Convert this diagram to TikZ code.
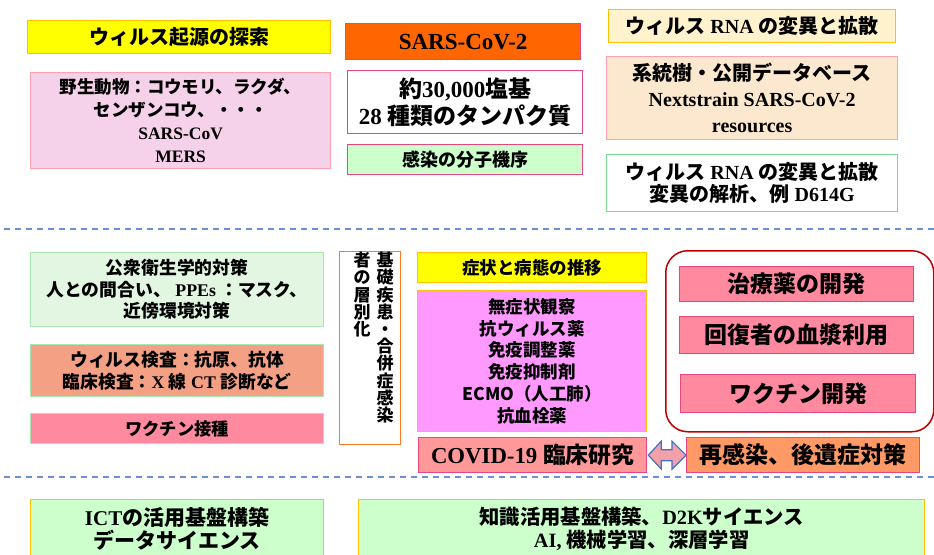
\documentclass[tikz,border=0pt]{standalone}
\usepackage{fontspec}
\setmainfont{Liberation Serif}
\newfontfamily\jpf{Noto Sans CJK JP}
\newcommand\jj[1]{{\jpf #1}}
\newcommand\fsz[2]{\fontsize{#1}{#2}\selectfont}
\usetikzlibrary{calc}
\definecolor{cyel}{HTML}{FFFF00}
\definecolor{cgold}{HTML}{FFC000}
\definecolor{cpinkl}{HTML}{F6D2EA}
\definecolor{cpinkb}{HTML}{FFA0B0}
\definecolor{corg}{HTML}{FF6600}
\definecolor{cdeep}{HTML}{E8467C}
\definecolor{cgreen}{HTML}{CCFFCC}
\definecolor{ccream}{HTML}{FFF2CC}
\definecolor{cpeach}{HTML}{FCE8CF}
\definecolor{cgrb}{HTML}{7FD88F}
\definecolor{cgrl}{HTML}{E2F6E2}
\definecolor{cgrlb}{HTML}{A9E8B0}
\definecolor{csalm}{HTML}{F4A084}
\definecolor{cpk}{HTML}{FF8AA0}
\definecolor{cvorg}{HTML}{FF7A20}
\definecolor{cmag}{HTML}{FF99FF}
\definecolor{ccov}{HTML}{FF9999}
\definecolor{cred}{HTML}{C00000}
\definecolor{creinf}{HTML}{FF9966}
\definecolor{carrf}{HTML}{F4A0A8}
\definecolor{carrb}{HTML}{4472C4}
\definecolor{cdash}{HTML}{6A8FD4}
\begin{document}
\begin{tikzpicture}[x=1pt,y=-1pt,
  bx/.style={draw, line width=1.3pt, align=center, inner sep=0pt, anchor=north west},
  sepline/.style={cdash, line width=2.2pt, dash pattern=on 6pt off 5pt},
  vcol/.style={align=center, inner sep=0pt, anchor=north, font={\bfseries\fsz{17}{17.2}\jpf}}]
\clip (0,0) rectangle (934,554);
\fill[white] (0,0) rectangle (934,554);
% top section
\node[bx, fill=cyel, draw=cgold, minimum width=303, minimum height=33, font={\bfseries\fsz{20}{22}}] (o1) at (27,20) {\jj{ウィルス起源の探索}};
\node[bx, fill=cpinkl, draw=cpinkb, minimum width=300, minimum height=96, font={\bfseries\fsz{17.5}{23}}] (o2) at (30,72)
  {\jj{野生動物：コウモリ、ラクダ、}\\\jj{センザンコウ、・・・}\\SARS-CoV\\MERS};
\node[bx, fill=corg, draw=cdeep, minimum width=235, minimum height=36, font={\bfseries\fsz{23}{26}}] (s1) at (345,23) {SARS-CoV-2};
\node[bx, fill=white, draw=cdeep, minimum width=235, minimum height=63, font={\bfseries\fsz{23}{27}}] (s2) at (347,70)
  {\jj{約}30,000\jj{塩基}\\28 \jj{種類のタンパク質}};
\node[bx, fill=cgreen, draw=cdeep, minimum width=235, minimum height=30, font={\bfseries\fsz{18}{21}}] (s3) at (347,144) {\jj{感染の分子機序}};
\node[bx, fill=ccream, draw=cgold, minimum width=287, minimum height=33, font={\bfseries\fsz{20}{23}}] (r1) at (608,9)
  {\jj{ウィルス} RNA \jj{の変異と拡散}};
\node[bx, fill=cpeach, draw=cpinkb, minimum width=291, minimum height=83, font={\bfseries\fsz{20}{26}}] (r2) at (606,56)
  {\jj{系統樹・公開データベース}\\Nextstrain SARS-CoV-2\\resources};
\node[bx, fill=white, draw=cgrb, minimum width=291, minimum height=57, font={\bfseries\fsz{20}{22.5}}] (r3) at (606,154)
  {\jj{ウィルス} RNA \jj{の変異と拡散}\\\jj{変異の解析、例} D614G};
\draw[sepline] (4,229) -- (934,229);
% middle section
\node[bx, fill=cgrl, draw=cgrlb, minimum width=293, minimum height=74, font={\bfseries\fsz{17.8}{21.5}}] (m1) at (30,252)
  {\jj{公衆衛生学的対策}\\\jj{人との間合い、} PPEs \jj{：マスク、}\\\jj{近傍環境対策}};
\node[bx, fill=csalm, draw=cgrlb, minimum width=293, minimum height=52, font={\bfseries\fsz{17.8}{22}}] (m2) at (30,344)
  {\jj{ウィルス検査：抗原、抗体}\\\jj{臨床検査：}X \jj{線} CT \jj{診断など}};
\node[bx, fill=cpk, draw=cgrlb, minimum width=293, minimum height=30, font={\bfseries\fsz{17.3}{21}}] (m3) at (30,413) {\jj{ワクチン接種}};
\node[bx, fill=white, draw=cvorg, minimum width=61, minimum height=193] (vb) at (339,251) {};
\node[vcol] (vr) at (385,252) {基\\礎\\疾\\患\\・\\合\\併\\症\\感\\染};
\node[vcol] (vl) at (362,252) {者\\の\\層\\別\\化};
\node[bx, fill=cyel, draw=cgold, minimum width=229, minimum height=30, font={\bfseries\fsz{17.5}{21}}] (c1) at (417,252) {\jj{症状と病態の推移}};
\node[bx, fill=cmag, draw=cgold, minimum width=229, minimum height=141, font={\bfseries\fsz{17.5}{21.8}\jpf}] (c2) at (417,290)
  {無症状観察\\抗ウィルス薬\\免疫調整薬\\免疫抑制剤\\ECMO（人工肺）\\抗血栓薬};
\node[bx, fill=ccov, draw=cdeep, minimum width=228, minimum height=35, font={\bfseries\fsz{22.8}{26}}] (c3) at (418,437) {COVID-19 \jj{臨床研究}};
\node[bx, fill=white, draw=cred, line width=1.5pt, rounded corners=22pt, minimum width=268, minimum height=181] (rr) at (665,250) {};
\node[bx, fill=cpk, draw=cdeep, minimum width=234, minimum height=35, font={\bfseries\fsz{23}{26}}] (t1) at (679,266) {\jj{治療薬の開発}};
\node[bx, fill=cpk, draw=cdeep, minimum width=234, minimum height=37, font={\bfseries\fsz{23}{26}}] (t2) at (679,316) {\jj{回復者の血漿利用}};
\node[bx, fill=cpk, draw=cdeep, minimum width=235, minimum height=38, font={\bfseries\fsz{23}{26}}] (t3) at (680,374) {\jj{ワクチン開発}};
\node[bx, fill=creinf, draw=cdeep, minimum width=233, minimum height=35, font={\bfseries\fsz{23}{26}}] (t4) at (686,437) {\jj{再感染、後遺症対策}};
\draw[carrb, fill=carrf, line width=1.2pt, line join=miter]
  ($(c3.east)+(1,0)$) -- ($(c3.east)+(14,-14)$) -- ($(c3.east)+(14,-5.5)$) --
  ($(t4.west)+(-14,-5.5)$) -- ($(t4.west)+(-14,-14)$) -- ($(t4.west)+(0,0)$) --
  ($(t4.west)+(-14,14)$) -- ($(t4.west)+(-14,5.5)$) --
  ($(c3.east)+(14,5.5)$) -- ($(c3.east)+(14,14)$) -- cycle;
\draw[sepline] (4,477) -- (934,477);
% bottom section
\node[bx, fill=cgreen, draw=cgold, minimum width=293, minimum height=59, font={\bfseries\fsz{21}{23}}] (b1) at (30,499)
  {ICT\jj{の活用基盤構築}\\\jj{データサイエンス}};
\node[bx, fill=cgreen, draw=cgold, minimum width=566, minimum height=59, font={\bfseries\fsz{20.3}{23}}] (b2) at (358,499)
  {\jj{知識活用基盤構築、}D2K\jj{サイエンス}\\AI, \jj{機械学習、深層学習}};
\end{tikzpicture}
\end{document}
